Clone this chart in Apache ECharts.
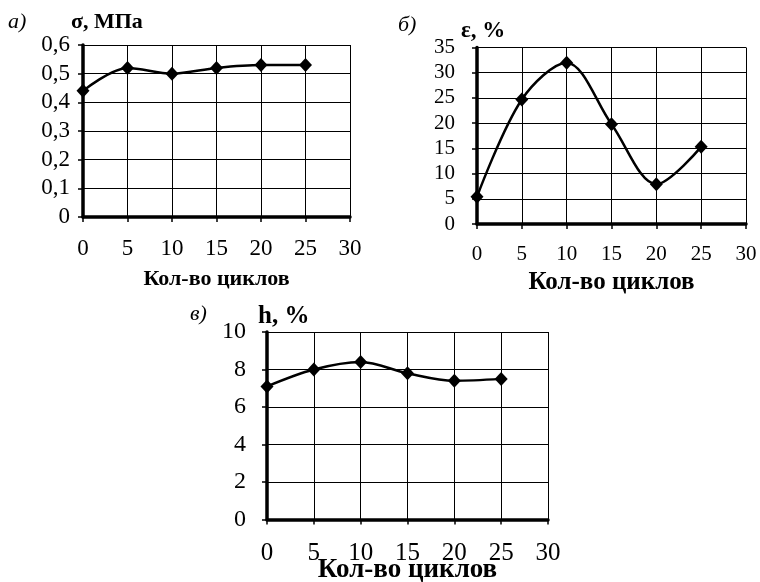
<!DOCTYPE html>
<html><head><meta charset="utf-8">
<script src="https://cdn.jsdelivr.net/npm/echarts@6/dist/echarts.min.js"></script>
<style>html,body{margin:0;padding:0;background:#fff}#c{width:760px;height:582px}</style>
</head><body><div id="c"></div>
<script>
var cycles = [0, 5, 10, 15, 20, 25];
var sigma = [0.44, 0.52, 0.50, 0.52, 0.53, 0.53];
var eps = [5.4, 24.7, 32.0, 19.8, 7.9, 15.3];
var hval = [7.1, 8.0, 8.4, 7.8, 7.4, 7.5];
var xLabel = 'Кол-во циклов';
var F = '"Liberation Serif", "Times New Roman", serif';

function pairs(ys){ return cycles.map(function(x,i){ return [x, ys[i]]; }); }

var grids = [
  {left:83, top:45, width:267, height:172, outerBoundsMode:'none', containLabel:false},
  {left:477, top:47.5, width:269, height:176.5, outerBoundsMode:'none', containLabel:false},
  {left:267, top:332, width:281, height:187.5, outerBoundsMode:'none', containLabel:false}
];
var yCfg = [
  {max:0.6, interval:0.1, fs:23, margin:13, fmt:function(v){ return v===0?'0':v.toFixed(1).replace('.',','); }},
  {max:35, interval:5, fs:21, margin:22, fmt:function(v){return String(v);} },
  {max:10, interval:2, fs:24, margin:21, fmt:function(v){return String(v);} }
];
var xCfg = [
  {fs:23, margin:20, nameGap:51, nameFs:22},
  {fs:21, margin:20, nameGap:46, nameFs:25},
  {fs:25, margin:21, nameGap:37, nameFs:27}
];
var lineStyle = {color:'#000', width:1};
var xAxes = [], yAxes = [], series = [];
[sigma, eps, hval].forEach(function(d, i){
  xAxes.push({
    type:'value', gridIndex:i, min:0, max:30, interval:5,
    name:xLabel, nameLocation:'middle', nameGap:xCfg[i].nameGap, nameMoveOverlap:false,
    nameTextStyle:{fontFamily:F, fontWeight:'bold', fontSize:xCfg[i].nameFs, color:'#000'},
    axisLine:{show:true, onZero:false, lineStyle:{color:'#000', width:3.5}},
    axisTick:{show:true, length:5, lineStyle:{color:'#000', width:1.5}},
    axisLabel:{fontFamily:F, fontSize:xCfg[i].fs, color:'#000', margin:xCfg[i].margin, showMinLabel:true, showMaxLabel:true},
    splitLine:{show:true, lineStyle:lineStyle}
  });
  yAxes.push({
    type:'value', gridIndex:i, min:0, max:yCfg[i].max, interval:yCfg[i].interval,
    axisLine:{show:true, onZero:false, lineStyle:{color:'#000', width:3.5}},
    axisTick:{show:true, length:5, lineStyle:{color:'#000', width:1.5}},
    axisLabel:{fontFamily:F, fontSize:yCfg[i].fs, color:'#000', margin:yCfg[i].margin, formatter:yCfg[i].fmt},
    splitLine:{show:true, lineStyle:lineStyle}
  });
  series.push({
    type:'line', xAxisIndex:i, yAxisIndex:i, data:pairs(d),
    smooth: 0.33,
    symbol:'diamond', symbolSize:[13,14],
    itemStyle:{color:'#000'}, lineStyle:{color:'#000', width:2.5},
    z:5
  });
});

function t(text, left, top, size, bold){
  return {text:text, left:left, top:top, padding:0,
    textStyle:{fontFamily:F, fontStyle:bold?'normal':'italic', fontWeight:bold?'bold':'normal', fontSize:size, color:'#000'}};
}

var chart = echarts.init(document.getElementById('c'), null, {renderer:'canvas'});
chart.setOption({
  backgroundColor:'#fff',
  animation:false,
  title:[
    t('а)', 8, 11, 22, false),
    t('σ, МПа', 71, 11, 22, true),
    t('б)', 398, 14, 22, false),
    t('ε, %', 461, 20, 23, true),
    t('в)', 190, 303, 22, false),
    t('h, %', 258, 304, 25, true)
  ],
  grid:grids,
  xAxis:xAxes,
  yAxis:yAxes,
  series:series
});
</script></body></html>
